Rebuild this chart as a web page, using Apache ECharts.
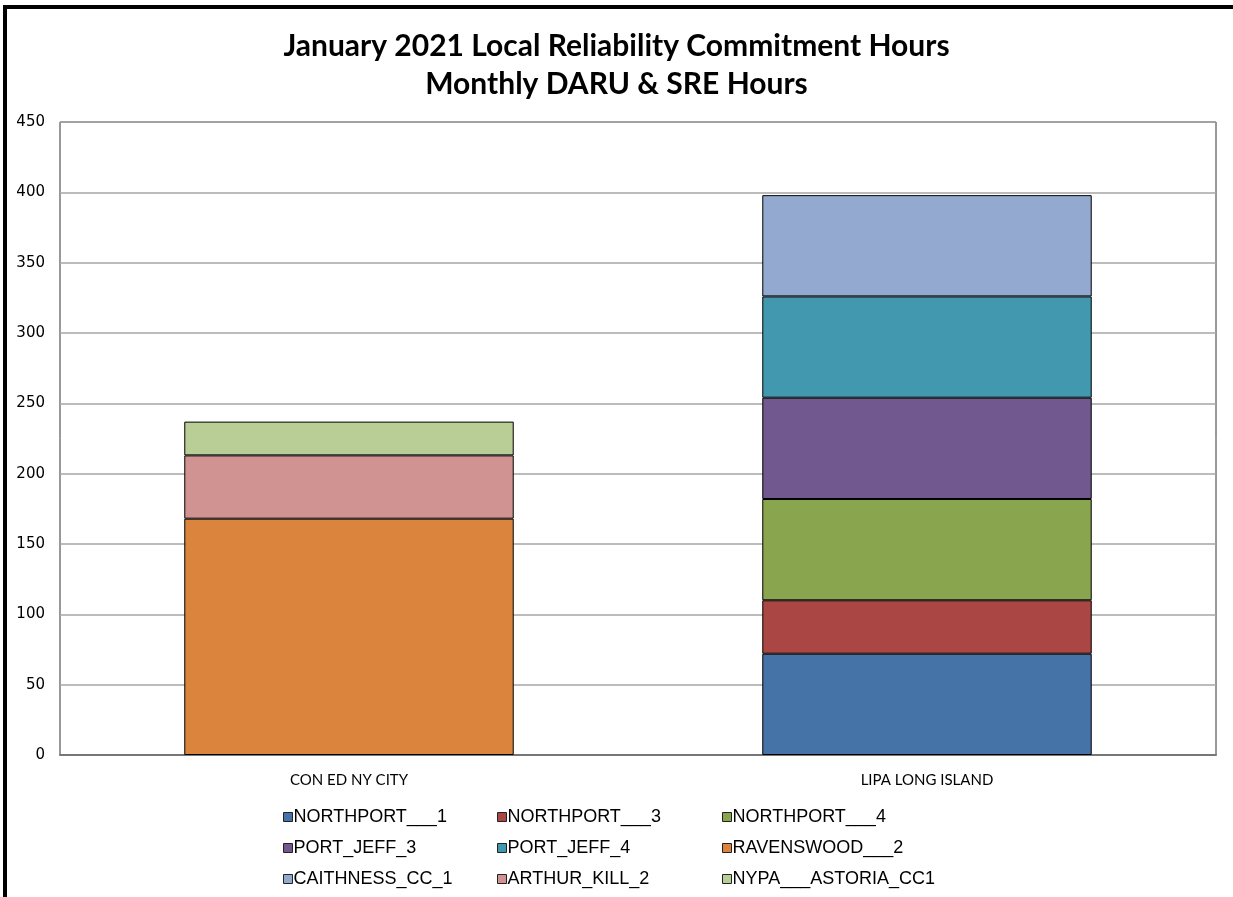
<!DOCTYPE html>
<html>
<head>
<meta charset="utf-8">
<script src="https://cdn.jsdelivr.net/npm/echarts@6/dist/echarts.min.js"></script>
<style>
html,body{margin:0;padding:0;background:#fff;}
#chart{width:1233px;height:897px;}
</style>
</head>
<body>
<div id="chart"></div>
<script>
const titleLines = ['January 2021 Local Reliability Commitment Hours', 'Monthly DARU & SRE Hours'];
const categories = ['CON ED NY CITY', 'LIPA LONG ISLAND'];
const seriesNames = ['NORTHPORT___1','NORTHPORT___3','NORTHPORT___4','PORT_JEFF_3','PORT_JEFF_4','RAVENSWOOD___2','CAITHNESS_CC_1','ARTHUR_KILL_2','NYPA___ASTORIA_CC1'];
const northport1 = [null, 72];
const northport3 = [null, 38];
const northport4 = [null, 72];
const portJeff3 = [null, 72];
const portJeff4 = [null, 72];
const ravenswood2 = [168, null];
const caithness = [null, 72];
const arthurKill2 = [45, null];
const nypaAstoria = [24, null];
const seriesValues = [northport1, northport3, northport4, portJeff3, portJeff4, ravenswood2, caithness, arthurKill2, nypaAstoria];
const colors = ['#4572A7','#AA4643','#89A54E','#71588F','#4198AF','#DB843D','#93A9CF','#D19392','#B9CD96'];
const yTicks = {min: 0, max: 450, interval: 50};

const chart = echarts.init(document.getElementById('chart'));
const legendLefts = [283, 497, 722];
const legendTops = [807, 838, 869];
const legends = seriesNames.map((name, k) => ({
  orient: 'horizontal',
  left: legendLefts[k % 3],
  top: legendTops[Math.floor(k / 3)],
  padding: 0,
  itemWidth: 9,
  itemHeight: 9,
  icon: 'rect',
  data: [name],
  textStyle: {fontFamily: 'Liberation Sans, Arial, sans-serif', fontSize: 18, color: '#000', lineHeight: 20, padding: [0,0,0,-4]},
  itemStyle: {borderColor: '#222', borderWidth: 1}
}));

chart.setOption({
  animation: false,
  backgroundColor: '#fff',
  title: {
    text: titleLines.join('\n'),
    left: 'center',
    top: 22,
    textStyle: {fontFamily: 'Lato, sans-serif', fontWeight: 'bold', fontSize: 30, lineHeight: 38, color: '#000'}
  },
  graphic: [{
    type: 'rect', silent: true, z: 100,
    shape: {x: 5, y: 7, width: 1400, height: 1000},
    style: {fill: 'none', stroke: '#000', lineWidth: 4}
  }],
  legend: legends,
  grid: {left: 60, right: 17, top: 122, bottom: 142, show: true, borderColor: '#333', borderWidth: 1, backgroundColor: 'transparent'},
  xAxis: {
    type: 'category',
    data: categories,
    axisLine: {show: true, lineStyle: {color: '#777', width: 2}},
    axisTick: {show: false},
    axisLabel: {fontFamily: 'Lato, sans-serif', fontSize: 15, color: '#000', margin: 18}
  },
  yAxis: {
    type: 'value',
    min: yTicks.min, max: yTicks.max, interval: yTicks.interval,
    axisLine: {show: false},
    axisTick: {show: false},
    splitLine: {lineStyle: {color: '#a6a6a6', width: 1.5}},
    axisLabel: {fontFamily: 'DejaVu Sans, sans-serif', fontSize: 15, color: '#000', margin: 15}
  },
  series: seriesNames.map((name, i) => ({
    name: name,
    type: 'bar',
    stack: 'total',
    barWidth: '57%',
    data: seriesValues[i],
    itemStyle: {color: colors[i], borderColor: '#000', borderWidth: 1}
  }))
});
</script>
</body>
</html>
